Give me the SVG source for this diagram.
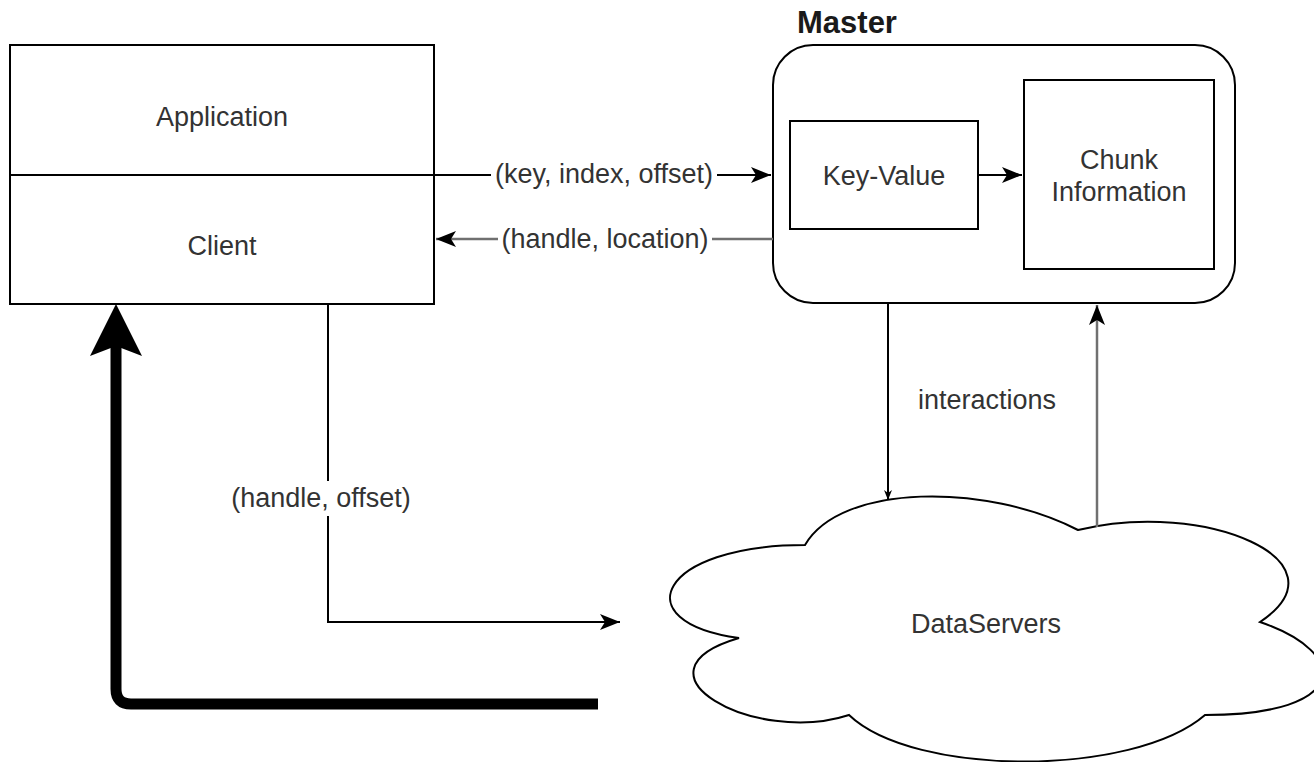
<svg xmlns="http://www.w3.org/2000/svg" width="1314" height="762" viewBox="0 0 1314 762">
<style>
.box{fill:#fff;stroke:#000;stroke-width:2}
.t{font-family:"Liberation Sans",Arial,sans-serif;font-size:27px;fill:#333;text-anchor:middle}
.tb{font-family:"Liberation Sans",Arial,sans-serif;font-size:31px;font-weight:bold;fill:#1a1a1a}
.ln{fill:none;stroke:#000;stroke-width:2}
.gl{fill:none;stroke:#707070;stroke-width:2.5}
.bg{fill:#fff}
</style>
<defs>
<marker id="arr" markerUnits="userSpaceOnUse" markerWidth="20" markerHeight="16" refX="20" refY="8" orient="auto" viewBox="0 0 20 16">
<path d="M0,0 L20,8 L0,16 L5,8 Z" fill="#000"/>
</marker>
<marker id="arrSmall" markerUnits="userSpaceOnUse" markerWidth="10" markerHeight="8" refX="10" refY="4" orient="auto" viewBox="0 0 10 8">
<path d="M0,0 L10,4 L0,8 L3,4 Z" fill="#000"/>
</marker>
<marker id="arrBig" markerUnits="userSpaceOnUse" markerWidth="52" markerHeight="52" refX="11" refY="26" orient="auto" viewBox="0 0 52 52">
<path d="M0,0 L52,26 L0,52 L10,26 Z" fill="#000"/>
</marker>
</defs>

<g id="dataservers">
<path class="box" d="M805,545 C659,545 623,622 739,638 C623,672 754,746 849,715 C914,777 1133,777 1205,715 C1351,715 1351,653 1260,622 C1351,561 1205,499 1078,530 C987,483 841,483 805,545 Z"/>
<text class="t" x="986" y="633">DataServers</text>
</g>

<g id="client">
<rect class="box" x="10" y="45" width="424" height="259"/>
<line class="ln" x1="10" y1="175" x2="434" y2="175"/>
<text class="t" x="222" y="126">Application</text>
<text class="t" x="222" y="255">Client</text>
</g>

<g id="master">
<text class="tb" x="797" y="33">Master</text>
<rect class="box" x="773" y="45" width="462" height="258" rx="40" ry="40"/>
</g>

<g id="keyvalue">
<rect class="box" x="790" y="121" width="188" height="108"/>
<text class="t" x="884" y="185">Key-Value</text>
</g>

<g id="chunkinfo">
<rect class="box" x="1024" y="80" width="190" height="189"/>
<text class="t" x="1119" y="169">Chunk</text>
<text class="t" x="1119" y="201">Information</text>
</g>

<g id="connectors">
<line class="ln" x1="434" y1="175" x2="771" y2="175" marker-end="url(#arr)"/>
<rect class="bg" x="491" y="160" width="226" height="30"/>
<text class="t" x="604" y="183">(key, index, offset)</text>

<line class="gl" x1="773" y1="239" x2="436" y2="239" marker-end="url(#arr)"/>
<rect class="bg" x="498" y="224" width="214" height="30"/>
<text class="t" x="605" y="248">(handle, location)</text>

<line class="ln" x1="978" y1="175" x2="1022" y2="175" marker-end="url(#arr)"/>

<line class="ln" x1="888" y1="303" x2="888" y2="500" marker-end="url(#arrSmall)"/>
<text class="t" x="987" y="409">interactions</text>

<line class="gl" x1="1097" y1="527" x2="1097" y2="305" marker-end="url(#arr)"/>

<polyline class="ln" points="328,304 328,622 620,622" marker-end="url(#arr)"/>
<rect class="bg" x="224" y="481" width="194" height="35"/>
<text class="t" x="321" y="507">(handle, offset)</text>

<path d="M598,704 L131,704 Q116,704 116,689 L116,345" fill="none" stroke="#000" stroke-width="11" marker-end="url(#arrBig)"/>
</g>
</svg>
